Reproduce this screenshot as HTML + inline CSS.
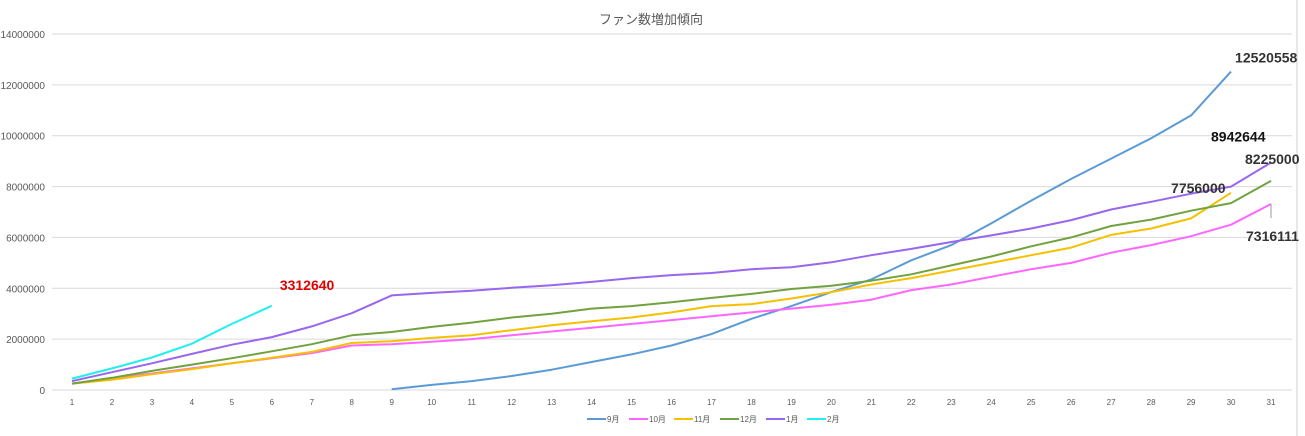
<!DOCTYPE html>
<html><head><meta charset="utf-8">
<style>
body{margin:0;background:#fff;}
svg{display:block;font-family:"Liberation Sans","Noto Sans CJK JP",sans-serif;}
</style></head>
<body>
<svg id="chart" width="1305" height="436" viewBox="0 0 1305 436">
<rect width="1305" height="436" fill="#fff"/>
<line x1="1297" y1="0" x2="1297" y2="436" stroke="#d0d0d0"/>
<text x="651" y="24" text-anchor="middle" font-size="13" fill="#595959">ファン数増加傾向</text>
<g id="grid"></g><g id="series"></g><g id="labels"></g><g id="legend"></g>
</svg>
<script>
const days=[];for(let i=1;i<=31;i++)days.push(i);
const yTicks=[0,2000000,4000000,6000000,8000000,10000000,12000000,14000000];
const seriesNames=["9月","10月","11月","12月","1月","2月"];
const seriesColors=["#5b9bd5","#ff66ff","#f5c000","#70a33f","#9966ee","#22eeee"];
const sep=[null,null,null,null,null,null,null,null,30000,200000,350000,550000,800000,1100000,1400000,1750000,2200000,2800000,3300000,3850000,4350000,5100000,5700000,6550000,7450000,8300000,9100000,9900000,10800000,12520558,null];
const oct=[250000,450000,650000,850000,1050000,1250000,1450000,1750000,1800000,1900000,2000000,2150000,2300000,2450000,2600000,2750000,2900000,3050000,3200000,3350000,3550000,3930000,4150000,4450000,4750000,5000000,5400000,5700000,6050000,6500000,7316111];
const nov=[250000,400000,620000,820000,1050000,1270000,1500000,1850000,1920000,2050000,2150000,2350000,2550000,2700000,2850000,3050000,3300000,3380000,3600000,3850000,4150000,4400000,4700000,5000000,5300000,5600000,6100000,6350000,6750000,7756000,null];
const dec=[250000,480000,750000,1000000,1250000,1520000,1800000,2150000,2280000,2480000,2650000,2850000,3000000,3200000,3300000,3450000,3620000,3780000,3970000,4100000,4300000,4550000,4900000,5250000,5650000,6000000,6450000,6700000,7050000,7350000,8225000];
const jan=[350000,700000,1050000,1420000,1780000,2080000,2500000,3020000,3720000,3820000,3900000,4020000,4120000,4250000,4400000,4520000,4600000,4750000,4830000,5020000,5300000,5550000,5820000,6080000,6350000,6680000,7100000,7400000,7720000,8000000,8942644];
const feb=[450000,850000,1280000,1820000,2600000,3312640,null,null,null,null,null,null,null,null,null,null,null,null,null,null,null,null,null,null,null,null,null,null,null,null,null];
const allSeries=[sep,oct,nov,dec,jan,feb];
const NS="http://www.w3.org/2000/svg";
const X=d=>72+(d-1)*(1271-72)/30;
const Y=v=>390-v*(356/14000000);
function mk(tag,attrs,parent){const e=document.createElementNS(NS,tag);for(const k in attrs)e.setAttribute(k,attrs[k]);parent.appendChild(e);return e;}
const grid=document.getElementById('grid');
yTicks.forEach(t=>{
 const l=mk('line',{x1:52,x2:1292,y1:Y(t),y2:Y(t),stroke:'#d9d9d9'},grid);
 
 
 const tx=mk('text',{x:45,y:Y(t)+4,'text-anchor':'end','font-size':10,fill:'#595959'},grid);
 tx.textContent=t;
 
 
});
days.forEach(d=>{
 const tx=mk('text',{x:X(d),y:405,'text-anchor':'middle','font-size':8,fill:'#595959'},grid);
 tx.textContent=d;
 
 
});
const sg=document.getElementById('series');
allSeries.forEach((s,i)=>{
 let pts=[];s.forEach((v,j)=>{if(v!==null)pts.push(X(days[j]).toFixed(1)+','+Y(v).toFixed(1));});
 const p=mk('polyline',{points:pts.join(' '),fill:'none',stroke:seriesColors[i],'stroke-width':2,'stroke-linejoin':'round'},sg);
 
 
});
function lastIdx(s){let k=-1;s.forEach((v,j)=>{if(v!==null)k=j;});return k;}
const lg=document.getElementById('labels');
const labelSpecs=[[0,4,-9,'#333'],[1,-25,37,'#333'],[2,-60,0,'#333'],[3,-26,-17,'#333'],[4,-60,-21,'#111'],[5,8,-16,'#e00000']];
labelSpecs.forEach(([si,dx,dy,col])=>{
 const s=allSeries[si];const k=lastIdx(s);
 const t=mk('text',{x:X(days[k])+dx,y:Y(s[k])+dy,'font-size':14,'font-weight':'bold',fill:col},lg);
 t.textContent=s[k];
 
 
});
const k1=lastIdx(oct);
const lead=mk('line',{x1:X(days[k1]),y1:Y(oct[k1]),x2:X(days[k1]),y2:Y(oct[k1])+14,stroke:'#999'},lg);


const leg=document.getElementById('legend');
const legX=[587,629,674,720,766,807];
seriesNames.forEach((n,i)=>{
 const g=mk('g',{},leg);
 
 
 mk('line',{x1:legX[i],x2:legX[i]+19,y1:419,y2:419,stroke:seriesColors[i],'stroke-width':2},g);
 const t=mk('text',{x:legX[i]+20,y:422,'font-size':8,fill:'#595959'},g);
 t.textContent=n;
});
</script>
</body></html>
